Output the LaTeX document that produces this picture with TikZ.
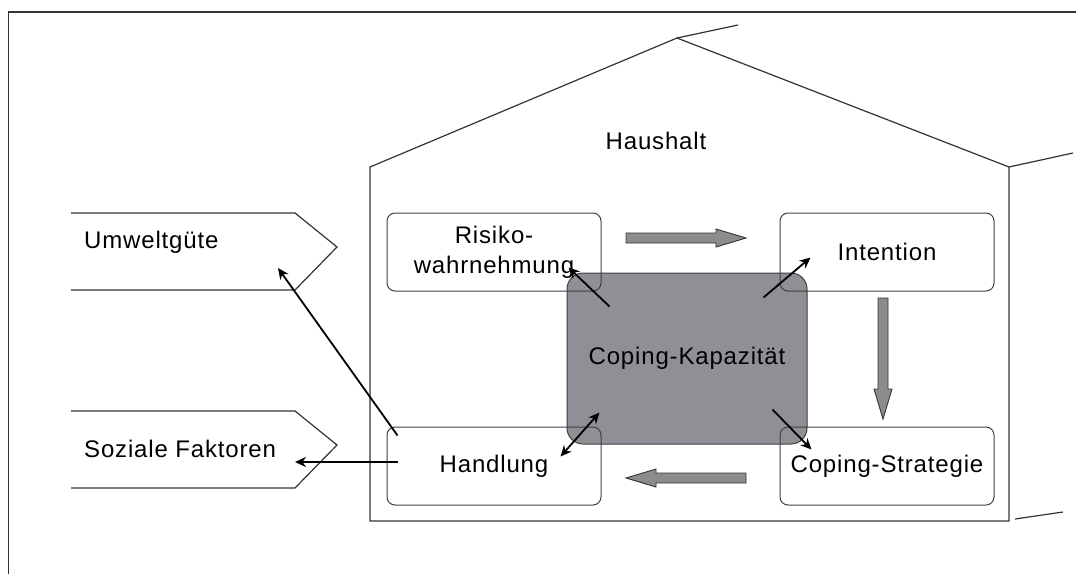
\documentclass[tikz,border=0pt]{standalone}
\usepackage{fontspec}
\setmainfont[LetterSpace=3.5]{Liberation Sans}
\usetikzlibrary{arrows.meta}
\definecolor{kapgrau}{RGB}{143,144,149}
\definecolor{pfeilgrau}{RGB}{140,140,140}
\tikzset{
  box/.style={draw=black!75, line width=1pt, rounded corners=8pt, minimum width=214pt,
    minimum height=78pt, inner sep=0pt, align=center},
  kapbox/.style={box, fill=kapgrau, rounded corners=16pt, minimum width=240pt, minimum height=171pt},
  pfeil/.style={line width=1.8pt, -{Stealth[length=11pt,width=10pt]}},
  doppelpfeil/.style={line width=1.8pt, {Stealth[length=11pt,width=10pt]}-{Stealth[length=11pt,width=10pt]}},
  blockpfeil/.style={fill=pfeilgrau, draw=black!80, line width=0.9pt},
  haus/.style={line width=1.2pt, draw=black!80},
}
\newcommand\blockpfeil[4]{% start x, start y, length, rotation
  \begin{scope}[shift={(#1,#2)},rotate=#4]
    \filldraw[blockpfeil] (0,-5) -- (#3-30,-5) -- (#3-30,-9) -- (#3,0)
      -- (#3-30,9) -- (#3-30,5) -- (0,5) -- cycle;
  \end{scope}
}
\newcommand\Fahne[4]{% name, top y, baseline, text
  \draw[haus] (71,#2) -- (295,#2) -- (337,#2+34) -- (295,#2+77) -- (71,#2+77);
  \coordinate (#1) at (337,#2+34);
  \node[anchor=base west, inner sep=0pt] (#1-text) at (84,#3) {#4};
}

\begin{document}
\begin{tikzpicture}[x=1pt, y=-1pt, every node/.style={font=\fontsize{24}{30}\selectfont}]
  \useasboundingbox (0,0) rectangle (1076,574);
  \draw[haus] (8.5,574) -- (8.5,12) -- (1076,12);

  % Haus
  \draw[haus] (370,521) -- (370,167) -- (677,38) -- (1009,167) -- (1009,521) -- cycle;
  \draw[haus] (677,38) -- (738,25);
  \draw[haus] (1009,167) -- (1073,153);
  \draw[haus] (1015,519) -- (1063,512);
  \node (haushalt) at (656,141) {Haushalt};

  \node[kapbox] (kap) at (687,358.5) {Coping-Kapazit\"at};
  \node[box] (risiko) at (494,252) {Risiko-\\wahrnehmung};
  \node[box] (intention) at (887,252) {Intention};
  \node[box] (strategie) at (887,466) {Coping-Strategie};
  \node[box] (handlung) at (494,466) {Handlung};

  \foreach \x/\y/\l/\r in {626/238/120/0, 883/298/121/-90, 746/478/120/180}
    \blockpfeil{\x}{\y}{\l}{\r};

  \Fahne{umwelt}{213}{248}{Umweltg\"ute}
  \Fahne{sozial}{411}{457}{Soziale Faktoren}

  \draw[pfeil] ([shift={(43,34)}]kap.north west) -- ([shift={(-33,-24)}]risiko.south east);
  \draw[pfeil] ([shift={(-44,25)}]kap.north east) -- ([shift={(31,-34)}]intention.south west);
  \draw[pfeil] ([shift={(-35,-35)}]kap.south east) -- ([shift={(32,23)}]strategie.north west);
  \draw[doppelpfeil] ([shift={(-41,30)}]handlung.north east) -- ([shift={(33,-32)}]kap.south west);
  \draw[pfeil] ([shift={(11,9)}]handlung.north west) -- ([shift={(-59,21)}]umwelt);
  \draw[pfeil] ([shift={(11,-4)}]handlung.west) -- ([shift={(-42,17)}]sozial);
\end{tikzpicture}
\end{document}
